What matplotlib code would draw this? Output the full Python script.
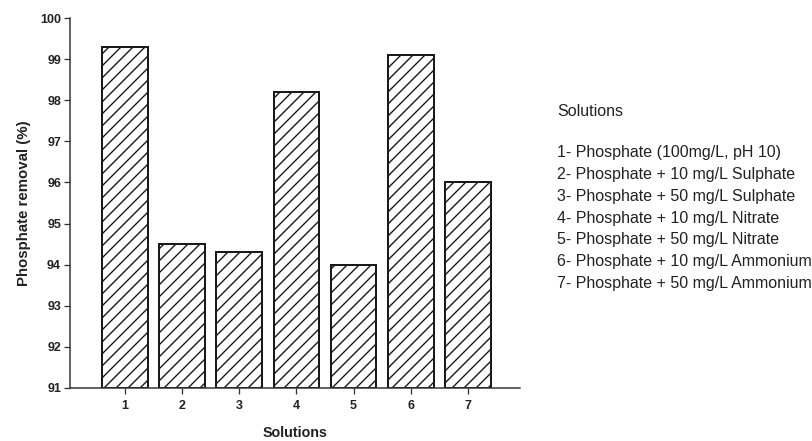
import matplotlib
matplotlib.use("Agg")
import matplotlib.pyplot as plt

plt.rcParams['font.family'] = ['Liberation Sans', 'DejaVu Sans']
plt.rcParams['hatch.linewidth'] = 1.4

solutions = [1, 2, 3, 4, 5, 6, 7]
removal = [99.3, 94.5, 94.3, 98.2, 94.0, 99.1, 96.0]
y_ticks = [91, 92, 93, 94, 95, 96, 97, 98, 99, 100]
legend_title = "Solutions"
legend_items = [
    "1- Phosphate (100mg/L, pH 10)",
    "2- Phosphate + 10 mg/L Sulphate",
    "3- Phosphate + 50 mg/L Sulphate",
    "4- Phosphate + 10 mg/L Nitrate",
    "5- Phosphate + 50 mg/L Nitrate",
    "6- Phosphate + 10 mg/L Ammonium",
    "7- Phosphate + 50 mg/L Ammonium",
]

DPI = 72
fig = plt.figure(figsize=(812 / DPI, 441 / DPI), dpi=DPI)
ax = fig.add_axes([70 / 812, 1 - 388 / 441, 450 / 812, 370 / 441])

ax.bar(solutions, [v - 91 for v in removal], bottom=91, width=0.80,
       color='white', edgecolor='#1a1a1a', linewidth=2.0, hatch='//')

ax.set_xlim(0.04, 7.91)
ax.set_ylim(91, 100)
ax.set_yticks(y_ticks)
ax.set_xticks(solutions)
ax.set_xticklabels([str(s) for s in solutions], fontsize=12.5, fontweight='bold', color='#222222')
ax.set_yticklabels([str(t) for t in y_ticks], fontsize=12.5, fontweight='bold', color='#222222')
ax.tick_params(axis='y', direction='out', length=6, width=1.3, color='#333333', pad=3)
ax.tick_params(axis='x', direction='out', length=6, width=1.3, color='#333333', pad=6)

for side in ['top', 'right']:
    ax.spines[side].set_visible(False)
for side in ['left', 'bottom']:
    ax.spines[side].set_linewidth(1.5)
    ax.spines[side].set_color('#333333')

ax.set_ylabel("Phosphate removal (%)", fontsize=15, fontweight='bold', color='#222222', labelpad=9)
ax.set_xlabel("Solutions", fontsize=14.3, fontweight='bold', color='#222222', labelpad=14)

fig.text(557 / 812, 1 - 112 / 441, legend_title, fontsize=16, va='center', ha='left', color='#222222')
for i, item in enumerate(legend_items):
    y = 153 + i * 21.7
    fig.text(557 / 812, 1 - y / 441, item, fontsize=16, va='center', ha='left', color='#222222')

fig.savefig("out.png", dpi=DPI, facecolor='white')
